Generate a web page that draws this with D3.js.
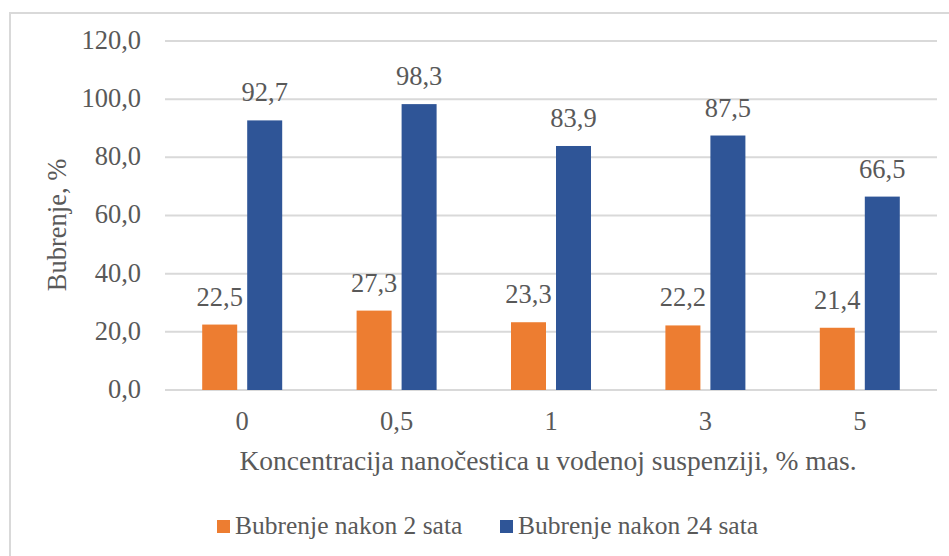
<!DOCTYPE html>
<meta charset="utf-8">
<style>
  body { margin: 0; background: #fff; }
  svg text { font-family: 'Liberation Serif', 'Times New Roman', serif; fill: #595959; }
  .grid line { stroke: #d9d9d9; stroke-width: 2; }
</style>
<body>
<script src="https://d3js.org/d3.v7.min.js"></script>
<script>
// data
var categories = ["0", "0,5", "1", "3", "5"];
var after2h = [22.5, 27.3, 23.3, 22.2, 21.4];
var after24h = [92.7, 98.3, 83.9, 87.5, 66.5];
var seriesNames = ["Bubrenje nakon 2 sata", "Bubrenje nakon 24 sata"];
var yTicks = [0, 20, 40, 60, 80, 100, 120];

var colors = ["#ED7D31", "#2F5597"];
var fmt = function(v) { return v.toFixed(1).replace(".", ","); };

var width = 949, height = 556;
var margin = {top: 41, right: 12, bottom: 166, left: 165};

var svg = d3.select("body").append("svg")
    .attr("width", width)
    .attr("height", height);

// chart border
svg.append("rect")
    .attr("x", 10).attr("y", 13)
    .attr("width", 960).attr("height", 560)
    .attr("fill", "none")
    .attr("stroke", "#d9d9d9")
    .attr("stroke-width", 2);

var x = d3.scaleBand()
    .domain(categories)
    .range([margin.left, width - margin.right]);

var y = d3.scaleLinear()
    .domain([0, 120])
    .range([height - margin.bottom, margin.top]);

// gridlines
svg.append("g")
    .attr("class", "grid")
  .selectAll("line")
  .data(yTicks)
  .enter().append("line")
    .attr("x1", x.range()[0])
    .attr("x2", x.range()[1])
    .attr("y1", function(d) { return y(d); })
    .attr("y2", function(d) { return y(d); });

// y tick labels
svg.append("g")
  .selectAll("text")
  .data(yTicks)
  .enter().append("text")
    .attr("x", 141)
    .attr("y", function(d) { return y(d); })
    .attr("dy", "0.3em")
    .attr("text-anchor", "end")
    .attr("font-size", 26.5)
    .text(fmt);

// bars
var barW = 35, gap = 10;
var series = [after2h, after24h];
series.forEach(function(vals, s) {
  var off = s === 0 ? -gap / 2 - barW : gap / 2;
  var g = svg.append("g");
  g.selectAll("rect")
    .data(vals)
    .enter().append("rect")
      .attr("x", function(d, i) { return x(categories[i]) + x.bandwidth() / 2 + off; })
      .attr("y", function(d) { return y(d); })
      .attr("width", barW)
      .attr("height", function(d) { return y(0) - y(d); })
      .attr("fill", colors[s]);
  g.selectAll("text")
    .data(vals)
    .enter().append("text")
      .attr("x", function(d, i) { return x(categories[i]) + x.bandwidth() / 2 + off + barW / 2; })
      .attr("y", function(d) { return y(d) - 19; })
      .attr("text-anchor", "middle")
      .attr("font-size", 26.5)
      .text(fmt);
});

// x tick labels
svg.append("g")
  .selectAll("text")
  .data(categories)
  .enter().append("text")
    .attr("x", function(d) { return x(d) + x.bandwidth() / 2; })
    .attr("y", 430)
    .attr("text-anchor", "middle")
    .attr("font-size", 26.5)
    .text(function(d) { return d; });

// axis titles
svg.append("text")
    .attr("x", 548)
    .attr("y", 470)
    .attr("text-anchor", "middle")
    .attr("font-size", 27.5)
    .text("Koncentracija nanočestica u vodenoj suspenziji, % mas.");

svg.append("text")
    .attr("transform", "translate(66,225) rotate(-90)")
    .attr("text-anchor", "middle")
    .attr("font-size", 26.5)
    .text("Bubrenje, %");

// legend
var legendX = [217, 500];
seriesNames.forEach(function(name, i) {
  svg.append("rect")
      .attr("x", legendX[i]).attr("y", 520)
      .attr("width", 13).attr("height", 13)
      .attr("fill", colors[i]);
  svg.append("text")
      .attr("x", legendX[i] + 18)
      .attr("y", 534)
      .attr("font-size", 25.5)
      .text(name);
});
</script>
</body>
